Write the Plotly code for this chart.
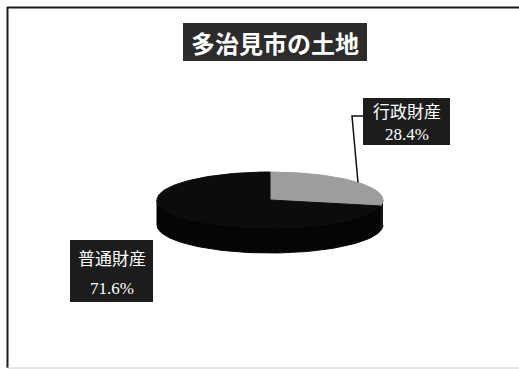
import numpy as np
import plotly.graph_objects as go

# Land holdings of Tajimi City, share by category (%)
categories = ["行政財産", "普通財産"]
shares = [28.4, 71.6]
top_colors = ["#9d9d9d", "#0c0c0c"]
side_colors = ["#141414", "#050505"]

W, H = 519, 370
cx, cy = 270, 200          # centre of the pie's top face (px)
rx, ry = 113, 28           # ellipse radii of the top face
depth = 25                 # thickness of the tilted pie


def ellipse_pt(theta_deg, dy=0.0):
    t = np.radians(theta_deg)
    return cx + rx * np.cos(t), cy - ry * np.sin(t) + dy


# slice angles: start at 12 o'clock, run clockwise
total = sum(shares)
bounds = [90.0]
for v in shares:
    bounds.append(bounds[-1] - 360.0 * v / total)

fig = go.Figure()

# front wall of the pie (only the part facing the viewer, sin(theta) <= 0)
for i in range(len(shares)):
    a0, a1 = bounds[i], bounds[i + 1]
    lo, hi = max(min(a0, a1), -180.0), min(max(a0, a1), 0.0)
    if lo >= hi:
        continue
    th = np.linspace(hi, lo, 80)
    xs_t, ys_t = ellipse_pt(th)
    xs_b, ys_b = ellipse_pt(th[::-1], depth)
    fig.add_trace(go.Scatter(
        x=np.concatenate([xs_t, xs_b]), y=np.concatenate([ys_t, ys_b]),
        fill="toself", fillcolor=side_colors[i], mode="lines",
        line=dict(color=side_colors[i], width=1), hoverinfo="skip",
        showlegend=False))

# top faces of the slices
for i in range(len(shares)):
    th = np.linspace(bounds[i], bounds[i + 1], 160)
    xs, ys = ellipse_pt(th)
    fig.add_trace(go.Scatter(
        x=np.concatenate([[cx], xs, [cx]]), y=np.concatenate([[cy], ys, [cy]]),
        fill="toself", fillcolor=top_colors[i], mode="lines",
        line=dict(color=top_colors[i], width=1), hoverinfo="skip",
        showlegend=False))

# leader line from the first slice's mid-arc to its label
mid = (bounds[0] + bounds[1]) / 2
ex, ey = ellipse_pt(mid)
fig.add_trace(go.Scatter(
    x=[363, 352, ex], y=[116, 116, ey], mode="lines",
    line=dict(color="#111111", width=1.5), hoverinfo="skip", showlegend=False))

label_font = dict(family="Liberation Serif, Noto Sans CJK JP", size=17, color="white")

# label boxes: (x0, y0, x1, y1, line-1 y, line-2 y)
label_boxes = [
    (363, 98, 450, 145, 112, 134),
    (70, 240, 153, 302, 259, 288),
]

shapes = [
    # chart frame
    dict(type="line", x0=7, y0=7.5, x1=W, y1=7.5, line=dict(color="#1a1a1a", width=2)),
    dict(type="line", x0=7.5, y0=7, x1=7.5, y1=368, line=dict(color="#1a1a1a", width=2)),
    dict(type="line", x0=7, y0=368, x1=W, y1=368, line=dict(color="#cfcfcf", width=1)),
    # title box
    dict(type="rect", x0=183, y0=23, x1=367, y1=61, fillcolor="#2c2c2c",
         line=dict(width=0)),
]
annotations = [
    dict(x=275, y=42, text="<b>多治見市の土地</b>", showarrow=False,
         font=dict(family="Noto Sans CJK JP", size=24, color="white"),
         xanchor="center", yanchor="middle"),
]
for (x0, y0, x1, y1, l1, l2), name, v in zip(label_boxes, categories, shares):
    shapes.append(dict(type="rect", x0=x0, y0=y0, x1=x1, y1=y1,
                       fillcolor="#1c1c1c", line=dict(width=0)))
    xc = (x0 + x1) / 2
    annotations.append(dict(x=xc, y=l1, text=name, showarrow=False, font=label_font,
                            xanchor="center", yanchor="middle"))
    annotations.append(dict(x=xc, y=l2, text=f"{v:.1f}%", showarrow=False,
                            font=label_font, xanchor="center", yanchor="middle"))

fig.update_layout(
    width=W, height=H, margin=dict(l=0, r=0, t=0, b=0),
    paper_bgcolor="white", plot_bgcolor="white",
    xaxis=dict(range=[0, W], visible=False, fixedrange=True),
    yaxis=dict(range=[H, 0], visible=False, fixedrange=True),
    shapes=shapes, annotations=annotations,
)

fig.write_html("out.html")
